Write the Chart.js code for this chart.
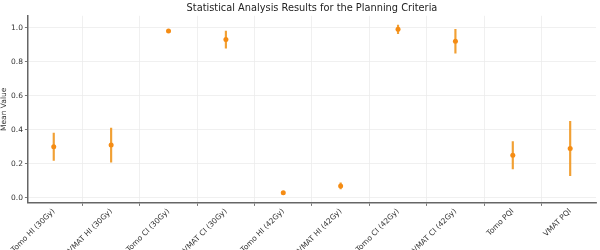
<!DOCTYPE html>
<html>
<head>
<meta charset="utf-8">
<script src="https://cdn.jsdelivr.net/npm/chart.js@4/dist/chart.umd.min.js"></script>
<style>
  html, body { margin: 0; padding: 0; background: #fff; }
  #wrap { width: 600px; height: 250px; }
</style>
</head>
<body>
<div id="wrap"><canvas id="c" width="600" height="250"></canvas></div>
<script>
const categories = ['Tomo HI (30Gy)', 'VMAT HI (30Gy)', 'Tomo CI (30Gy)', 'VMAT CI (30Gy)', 'Tomo HI (42Gy)', 'VMAT HI (42Gy)', 'Tomo CI (42Gy)', 'VMAT CI (42Gy)', 'Tomo PQI', 'VMAT PQI'];
const means = [0.30, 0.31, 0.98, 0.93, 0.03, 0.07, 0.99, 0.92, 0.25, 0.29];
const errors = [0.08, 0.10, 0.005, 0.05, 0.005, 0.018, 0.025, 0.07, 0.08, 0.16];
const yTicks = [0.0, 0.2, 0.4, 0.6, 0.8, 1.0];

const orange = 'rgb(245,140,20)';
const FONT = "'DejaVu Sans', sans-serif";

const pointData = categories.map((c, i) => ({ x: i, y: means[i] }));
const errData = categories.map((c, i) => ({ x: i, y: [means[i] - errors[i], means[i] + errors[i]] }));

new Chart(document.getElementById('c'), {
  type: 'bar',
  data: {
    datasets: [
      {
        type: 'scatter',
        data: pointData,
        backgroundColor: orange,
        borderColor: orange,
        pointRadius: 2.5,
        pointBorderWidth: 0,
        order: 0
      },
      {
        type: 'bar',
        data: errData,
        backgroundColor: 'rgba(240,150,30,0.9)',
        borderWidth: 0,
        barThickness: 1.5,
        grouped: false,
        order: 1
      }
    ]
  },
  options: {
    responsive: false,
    animation: false,
    events: [],
    layout: { padding: { left: 0, right: 4, top: 0, bottom: -6 } },
    plugins: {
      legend: { display: false },
      tooltip: { enabled: false },
      title: {
        display: true,
        text: 'Statistical Analysis Results for the Planning Criteria',
        fullSize: false,
        color: '#222',
        font: { family: FONT, size: 9.8, weight: 'normal' },
        padding: { top: 3, bottom: 1 }
      }
    },
    scales: {
      x: {
        type: 'linear',
        min: -0.45,
        max: 9.45,
        offset: false,
        afterBuildTicks: (s) => { s.ticks = categories.map((c, i) => ({ value: i })); },
        ticks: {
          autoSkip: false,
          maxRotation: 45,
          minRotation: 45,
          color: '#333',
          padding: 1,
          font: { family: FONT, size: 7.5 },
          callback: (v) => categories[v]
        },
        grid: { color: '#ececec', lineWidth: 0.8, tickLength: 3, tickColor: '#555' },
        border: { color: '#666', width: 1.5 }
      },
      y: {
        min: -0.03,
        max: 1.07,
        afterBuildTicks: (s) => { s.ticks = yTicks.map(v => ({ value: v })); },
        ticks: {
          color: '#333',
          padding: 2,
          font: { family: FONT, size: 7.5 },
          callback: (v) => v.toFixed(1)
        },
        title: {
          display: true,
          text: 'Mean Value',
          color: '#333',
          font: { family: FONT, size: 7.5 },
          padding: { top: 0, bottom: 0 }
        },
        grid: { color: '#ececec', lineWidth: 0.8, tickLength: 3, tickColor: '#555' },
        border: { color: '#666', width: 1.5 }
      }
    }
  }
});
</script>
</body>
</html>
